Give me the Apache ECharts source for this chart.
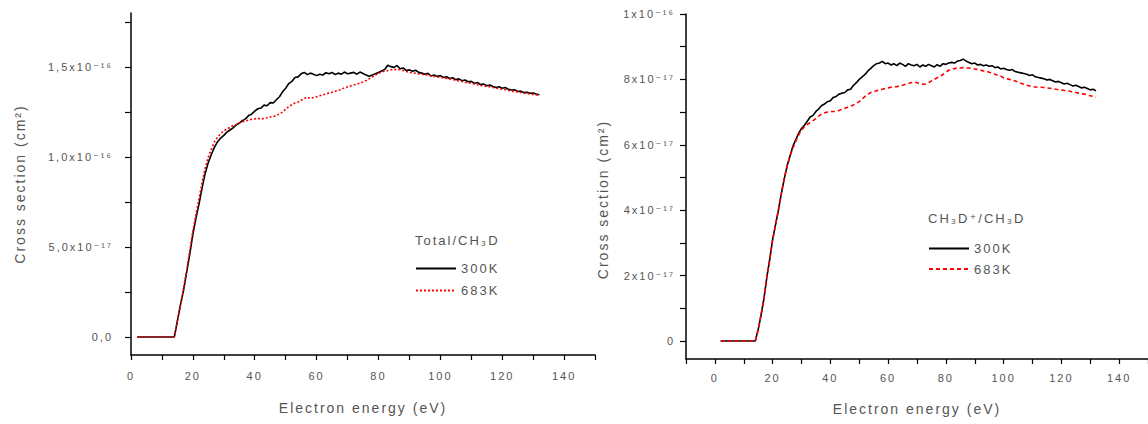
<!DOCTYPE html>
<html>
<head>
<meta charset="utf-8">
<script src="https://cdn.jsdelivr.net/npm/echarts@6/dist/echarts.min.js"></script>
<style>
  html, body { margin: 0; padding: 0; background: #fff; }
  #chart { width: 1148px; height: 424px; }
  #chart text { letter-spacing: 2px; }
</style>
</head>
<body>
<div id="chart"></div>
<script>
// Electron energy grid (eV)
const energy = [
  2,3,4,5,6,7,8,9,10,11,
  12,13,14,15,16,17,18,19,20,21,
  22,23,24,25,26,27,28,29,30,31,
  32,33,34,35,36,37,38,39,40,41,
  42,43,44,45,46,47,48,49,50,51,
  52,53,54,55,56,57,58,59,60,61,
  62,63,64,65,66,67,68,69,70,71,
  72,73,74,75,76,77,78,79,80,81,
  82,83,84,85,86,87,88,89,90,91,
  92,93,94,95,96,97,98,99,100,101,
  102,103,104,105,106,107,108,109,110,111,
  112,113,114,115,116,117,118,119,120,121,
  122,123,124,125,126,127,128,129,130,131,
  132
];

// Cross sections, in units of 1e-17 cm^2
// Left panel: Total / CH3D
const totalBlack300K = [
  0,0,0,0,0,0,0,0,0,0,
  0,0,0,0.9,1.8,2.6,3.6,4.6,5.7,6.6,
  7.4,8.3,9.1,9.7,10.15,10.55,10.85,11.05,11.2,11.38,
  11.5,11.62,11.78,11.88,12.02,12.12,12.3,12.38,12.55,12.68,
  12.72,12.88,12.85,13.02,13.0,13.18,13.35,13.62,13.82,14.08,
  14.2,14.42,14.45,14.62,14.7,14.58,14.66,14.6,14.52,14.6,
  14.55,14.68,14.62,14.7,14.58,14.66,14.6,14.72,14.62,14.66,
  14.7,14.6,14.72,14.64,14.55,14.48,14.56,14.62,14.7,14.78,
  14.86,15.1,15.02,14.98,15.08,14.9,14.95,14.8,14.84,14.76,
  14.82,14.7,14.66,14.6,14.65,14.5,14.56,14.48,14.52,14.42,
  14.46,14.36,14.4,14.3,14.34,14.24,14.28,14.18,14.2,14.1,
  14.14,14.02,14.06,13.96,14.0,13.92,13.86,13.9,13.82,13.86,
  13.76,13.72,13.74,13.64,13.66,13.58,13.6,13.54,13.56,13.5,
  13.46
];
const totalRed683K = [
  0,0,0,0,0,0,0,0,0,0,
  0,0,0,0.9,1.8,2.7,3.7,4.8,5.9,6.8,
  7.7,8.6,9.4,10.0,10.45,10.85,11.1,11.3,11.45,11.55,
  11.65,11.75,11.8,11.9,11.95,12.0,12.05,12.1,12.12,12.15,
  12.1,12.15,12.18,12.22,12.25,12.3,12.4,12.5,12.65,12.8,
  12.9,13.0,13.05,13.15,13.25,13.32,13.25,13.3,13.35,13.4,
  13.45,13.5,13.55,13.6,13.65,13.7,13.75,13.85,13.9,13.95,
  14.0,14.05,14.1,14.17,14.25,14.35,14.45,14.55,14.65,14.72,
  14.78,14.8,14.85,14.85,14.88,14.85,14.8,14.75,14.7,14.68,
  14.65,14.62,14.6,14.58,14.55,14.5,14.48,14.45,14.42,14.4,
  14.36,14.34,14.3,14.28,14.22,14.2,14.15,14.12,14.1,14.05,
  14.02,13.98,13.95,13.92,13.9,13.86,13.82,13.8,13.76,13.74,
  13.7,13.66,13.64,13.62,13.58,13.55,13.52,13.5,13.48,13.45,
  13.42
];
// Right panel: CH3D+ / CH3D
const parentBlack300K = [
  0,0,0,0,0,0,0,0,0,0,
  0,0,0,0.35,0.8,1.3,1.95,2.5,3.1,3.55,
  4.0,4.5,4.95,5.35,5.65,5.95,6.15,6.35,6.5,6.6,
  6.72,6.85,6.9,7.02,7.1,7.2,7.25,7.32,7.35,7.45,
  7.48,7.55,7.58,7.6,7.68,7.7,7.82,7.9,8.0,8.08,
  8.15,8.26,8.34,8.42,8.48,8.5,8.55,8.48,8.5,8.44,
  8.48,8.42,8.5,8.46,8.4,8.48,8.44,8.42,8.46,8.38,
  8.44,8.4,8.46,8.42,8.38,8.45,8.4,8.48,8.46,8.5,
  8.52,8.5,8.56,8.58,8.62,8.56,8.52,8.48,8.5,8.44,
  8.46,8.42,8.44,8.4,8.42,8.36,8.38,8.32,8.34,8.3,
  8.28,8.3,8.24,8.22,8.2,8.18,8.16,8.12,8.14,8.08,
  8.06,8.04,8.02,7.98,8.0,7.96,7.92,7.94,7.9,7.86,
  7.88,7.84,7.8,7.82,7.78,7.74,7.76,7.72,7.68,7.7,
  7.65
];
const parentRed683K = [
  0,0,0,0,0,0,0,0,0,0,
  0,0,0,0.35,0.8,1.3,1.95,2.5,3.1,3.55,
  4.0,4.5,4.95,5.35,5.65,5.9,6.1,6.3,6.45,6.55,
  6.62,6.68,6.74,6.8,6.88,6.95,6.98,7.0,7.02,7.02,
  7.02,7.05,7.08,7.12,7.15,7.18,7.22,7.27,7.32,7.4,
  7.48,7.55,7.6,7.62,7.65,7.68,7.7,7.72,7.74,7.76,
  7.77,7.78,7.8,7.82,7.85,7.88,7.9,7.92,7.9,7.87,
  7.85,7.86,7.9,7.95,8.0,8.05,8.1,8.15,8.22,8.28,
  8.32,8.33,8.35,8.35,8.36,8.35,8.35,8.33,8.32,8.3,
  8.28,8.26,8.25,8.22,8.2,8.16,8.12,8.1,8.05,8.02,
  8.0,7.98,7.95,7.92,7.88,7.85,7.82,7.8,7.78,7.77,
  7.76,7.76,7.75,7.74,7.73,7.72,7.7,7.69,7.68,7.66,
  7.65,7.64,7.62,7.6,7.58,7.56,7.55,7.52,7.5,7.48,
  7.46
];

// Tick positions / labels (y in units of 1e-17 cm^2)
const xTickValues = [0,10,20,30,40,50,60,70,80,90,100,110,120,130,140,150];
const xLabelValues = [0,20,40,60,80,100,120,140];
const xTickValuesRight = [-10,0,10,20,30,40,50,60,70,80,90,100,110,120,130,140,150];
const leftYTickValues = [0,2.5,5,7.5,10,12.5,15,17.5];
const leftYLabelValues = [0,5,10,15];
const leftYLabelTexts = ['0,0','5,0x10⁻¹⁷','1,0x10⁻¹⁶','1,5x10⁻¹⁶'];
const rightYTickValues = [0,1,2,3,4,5,6,7,8,9,10];
const rightYLabelValues = [0,2,4,6,8,10];
const rightYLabelTexts = ['0','2x10⁻¹⁷','4x10⁻¹⁷','6x10⁻¹⁷','8x10⁻¹⁷','1x10⁻¹⁶'];

const leftLegendTitle = 'Total/CH₃D';
const rightLegendTitle = 'CH₃D⁺/CH₃D';
const xName = 'Electron energy (eV)';
const yName = 'Cross section (cm²)';

const FONT = '"Liberation Sans", Arial, "DejaVu Sans", sans-serif';
const TXT = '#555';

const chart = echarts.init(document.getElementById('chart'), null, { renderer: 'svg' });

function pairs(ys) { return energy.map((e, i) => [e, ys[i]]); }

function xAxisCfg(gridIndex, min, ticks, gap, margin) {
  return {
    type: 'value', gridIndex, min, max: 150,
    name: xName, nameLocation: 'middle', nameGap: gap,
    nameTextStyle: { fontFamily: FONT, fontSize: 14, color: TXT },
    axisLine: { show: true, onZero: false, lineStyle: { color: '#000', width: 1.5 } },
    axisTick: { show: true, length: 5, customValues: ticks, lineStyle: { color: '#000', width: 1.2 } },
    axisLabel: { customValues: xLabelValues, margin, fontFamily: FONT, fontSize: 11, color: TXT, hideOverlap: false,
      showMinLabel: true, showMaxLabel: true },
    splitLine: { show: false }
  };
}

function yAxisCfg(gridIndex, min, max, ticks, labelVals, labelTexts, gap, margin, namePad) {
  return {
    type: 'value', gridIndex, min, max,
    name: yName, nameLocation: 'middle', nameGap: gap,
    nameTextStyle: { fontFamily: FONT, fontSize: 14, color: TXT, padding: namePad },
    axisLine: { show: true, onZero: false, lineStyle: { color: '#000', width: 1.5 } },
    axisTick: { show: true, length: 6, customValues: ticks, lineStyle: { color: '#000', width: 1.2 } },
    axisLabel: {
      customValues: labelVals, margin, fontFamily: FONT, fontSize: 11, color: TXT,
      formatter: (v) => {
        const idx = labelVals.findIndex(t => Math.abs(t - v) < 1e-9);
        return idx >= 0 ? labelTexts[idx] : '';
      }
    },
    splitLine: { show: false }
  };
}

const legendCommon = {
  orient: 'vertical', padding: 0, itemWidth: 40, itemHeight: 14, selectedMode: false,
  itemStyle: { opacity: 0 },
  textStyle: { fontFamily: FONT, fontSize: 13, color: TXT }
};

const option = {
  animation: false,
  backgroundColor: '#fff',
  textStyle: { fontFamily: FONT },
  grid: [
    { left: 131, top: 13, width: 464, height: 342, containLabel: false },
    { left: 686, top: 14, width: 467, height: 345, containLabel: false }
  ],
  xAxis: [
    xAxisCfg(0, 0, xTickValues, 46, 15),
    xAxisCfg(1, -10, xTickValuesRight, 43, 13)
  ],
  yAxis: [
    yAxisCfg(0, -1, 18, leftYTickValues, leftYLabelValues, leftYLabelTexts, 104, 18, [0, 0, 0, 0]),
    yAxisCfg(1, -0.55, 10, rightYTickValues, rightYLabelValues, rightYLabelTexts, 76, 11, [0, 26, 0, 0])
  ],
  title: [
    { text: leftLegendTitle, left: 415, top: 234, padding: 0,
      textStyle: { fontFamily: FONT, fontSize: 13, fontWeight: 'normal', color: TXT } },
    { text: rightLegendTitle, left: 928, top: 212, padding: 0,
      textStyle: { fontFamily: FONT, fontSize: 13, fontWeight: 'normal', color: TXT } }
  ],
  legend: [
    Object.assign({}, legendCommon, { data: ['300K', '683K'], left: 415, top: 262, itemGap: 9 }),
    Object.assign({}, legendCommon, { data: ['300K ', '683K '], left: 928, top: 242, itemGap: 7.5,
      formatter: (n) => n.trim() })
  ],
  series: [
    { name: '300K', type: 'line', xAxisIndex: 0, yAxisIndex: 0, data: pairs(totalBlack300K),
      symbol: 'none', showSymbol: false, lineStyle: { color: '#000', width: 1.6 }, itemStyle: { color: '#000' } },
    { name: '683K', type: 'line', xAxisIndex: 0, yAxisIndex: 0, data: pairs(totalRed683K),
      symbol: 'none', showSymbol: false, lineStyle: { color: '#ff0000', width: 1.6, type: [2, 2] }, itemStyle: { color: '#ff0000' } },
    { name: '300K ', type: 'line', xAxisIndex: 1, yAxisIndex: 1, data: pairs(parentBlack300K),
      symbol: 'none', showSymbol: false, lineStyle: { color: '#000', width: 1.6 }, itemStyle: { color: '#000' } },
    { name: '683K ', type: 'line', xAxisIndex: 1, yAxisIndex: 1, data: pairs(parentRed683K),
      symbol: 'none', showSymbol: false, lineStyle: { color: '#ff0000', width: 1.6, type: [4, 3] }, itemStyle: { color: '#ff0000' } }
  ]
};

chart.setOption(option);
</script>
</body>
</html>
